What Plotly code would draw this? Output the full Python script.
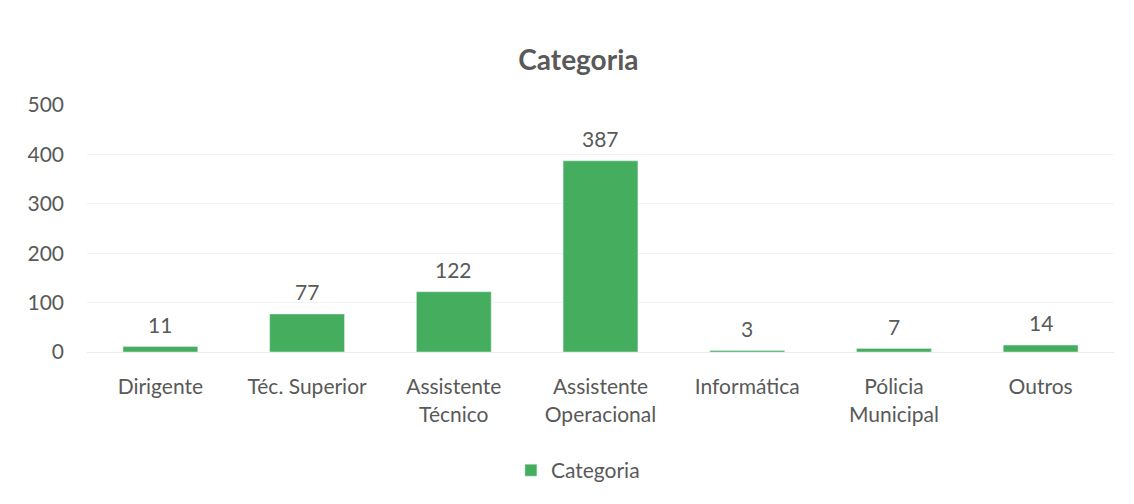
import plotly.graph_objects as go

categorias = ["Dirigente", "Téc. Superior", "Assistente<br>Técnico", "Assistente<br>Operacional",
              "Informática", "Pólicia<br>Municipal", "Outros"]
valores = [11, 77, 122, 387, 3, 7, 14]
y_ticks = [0, 100, 200, 300, 400, 500]

cinza = "#595959"
verde = "#45ad5e"

fig = go.Figure()
fig.add_trace(go.Bar(x=categorias, y=valores,
                     name="Categoria",
                     marker=dict(color=verde)))

# rótulos de dados um pouco acima das barras
for c, v in zip(categorias, valores):
    fig.add_annotation(x=c, y=v, text=str(v), showarrow=False,
                       yanchor="bottom", yshift=8,
                       font=dict(size=21, color=cinza))

fig.update_layout(
    width=1134, height=504,
    paper_bgcolor="white",
    plot_bgcolor="white",
    margin=dict(l=79, r=28, t=97, b=160, autoexpand=False),
    font=dict(family="Lato, Open Sans, sans-serif", size=21, color=cinza),
    title=dict(text="<b>Categoria</b>", x=0.503, xanchor="center", y=0.897, yanchor="middle",
               font=dict(size=28, color=cinza)),
    bargap=0.49,
    showlegend=True,
    legend=dict(orientation="h", x=0.478, xanchor="center", y=-0.48, yanchor="middle",
                font=dict(size=21, color=cinza)),
    xaxis=dict(showgrid=False, showline=True, linecolor="#ececec", ticks="",
               ticklabelstandoff=16, tickfont=dict(size=21, color=cinza)),
    yaxis=dict(range=[0, 500], tickvals=y_ticks, showgrid=True, gridcolor="#f3f3f3",
               zeroline=False, ticks="", ticklabelstandoff=22,
               tickfont=dict(size=21, color=cinza)),
)

fig.write_html("out.html")
